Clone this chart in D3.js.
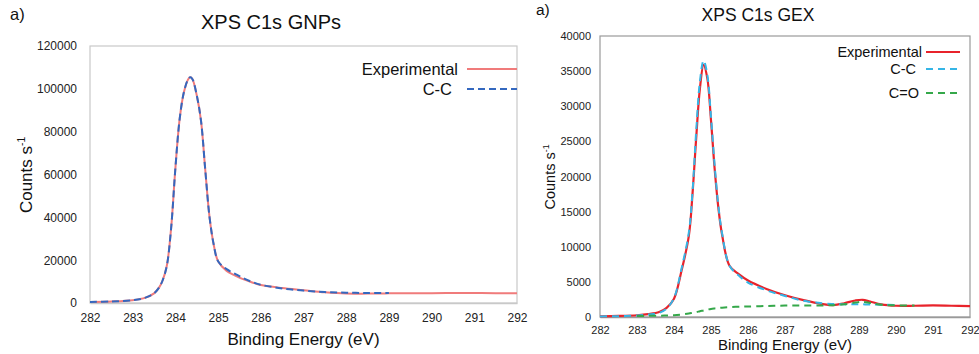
<!DOCTYPE html>
<html>
<head>
<meta charset="utf-8">
<script src="https://cdn.jsdelivr.net/npm/d3@7"></script>
<style>
  body { margin: 0; background: #fff; }
  svg { font-family: "Liberation Sans", Arial, sans-serif; }
</style>
</head>
<body>
<svg id="chart" width="979" height="354"></svg>
<script>
// ---- data: GNPs panel ----
const gnpEnergy = [282, 282.5, 283, 283.3, 283.5, 283.62, 283.7, 283.8, 283.9, 284.0, 284.1, 284.2, 284.3, 284.35, 284.4, 284.5, 284.6, 284.7, 284.8, 284.9, 285.0, 285.2, 285.4, 285.6, 285.8, 286, 286.5, 287, 287.5, 288, 288.5, 289, 289.5, 290, 290.5, 291, 291.5, 292];
const gnpExperimental = [500, 700, 1300, 2500, 4500, 7300, 10500, 17500, 35000, 63000, 86000, 98500, 104500, 105400, 104500, 97000, 85000, 62000, 40000, 27000, 19500, 15000, 12800, 11000, 9600, 8400, 7000, 6000, 5000, 4400, 4400, 4500, 4500, 4600, 4700, 4700, 4600, 4500];
const gnpCC = [500, 700, 1300, 2500, 4500, 7300, 10500, 17500, 35000, 63000, 86000, 98500, 104500, 105400, 104500, 97000, 85000, 62000, 40000, 27000, 19500, 15800, 13600, 11500, 9800, 8500, 6800, 5800, 5100, 4800, 4700, 4700, null, null, null, null, null, null];
const gnpYTicks = [0, 20000, 40000, 60000, 80000, 100000, 120000];

// ---- data: GEX panel ----
const gexEnergy = [282, 282.5, 283, 283.3, 283.6, 283.8, 284, 284.2, 284.4, 284.5, 284.6, 284.7, 284.8, 284.9, 285, 285.1, 285.2, 285.3, 285.5, 285.75, 286, 286.5, 287, 287.5, 288, 288.3, 288.6, 288.9, 289.1, 289.3, 289.6, 290, 290.5, 291, 291.5, 292];
const gexExperimental = [100, 150, 250, 400, 700, 1300, 2600, 6500, 11500, 17500, 25500, 32500, 35900, 34000, 28000, 21000, 15500, 11700, 7300, 6100, 5200, 4000, 3100, 2400, 1850, 1700, 1950, 2350, 2450, 2200, 1800, 1600, 1600, 1650, 1600, 1550];
const gexCC = [80, 120, 200, 350, 600, 1200, 2700, 6800, 12000, 17800, 26500, 33500, 36500, 34500, 28500, 21500, 15800, 11900, 7300, 5900, 4900, 3800, 3000, 2300, 1950, 1850, 1800, 1800, 1800, 1780, 1750, 1700, null, null, null, null];
const gexCO = [null, null, 150, 160, 190, 210, 250, 350, 500, 600, 700, 820, 930, 1050, 1150, 1220, 1280, 1330, 1400, 1460, 1500, 1570, 1620, 1640, 1650, 1680, 1800, 2050, 2150, 2000, 1750, 1650, 1620, null, null, null];
const gexYTicks = [0, 5000, 10000, 15000, 20000, 25000, 30000, 35000, 40000];

const xTicks = [282, 283, 284, 285, 286, 287, 288, 289, 290, 291, 292];

const svg = d3.select('#chart');

function drawPanel(p) {
    const x = d3.scaleLinear().domain([282, 292]).range([p.left, p.right]);
    const y = d3.scaleLinear().domain([0, p.yMax]).range([p.bottom, p.top]);
    const g = svg.append('g');

    // plot frame
    g.append('rect')
        .attr('x', p.left).attr('y', p.top)
        .attr('width', p.right - p.left).attr('height', p.bottom - p.top)
        .attr('fill', 'none').attr('stroke', p.frame).attr('stroke-width', 1.2);

    const yAxis = g.append('g')
        .attr('transform', `translate(${p.left},0)`)
        .call(d3.axisLeft(y).tickValues(p.yTicks).tickSize(0).tickPadding(p.yPad).tickFormat(d3.format('d')));
    yAxis.select('.domain').remove();
    yAxis.selectAll('text').attr('font-size', p.tickSize).attr('fill', '#222').attr('font-family', null);

    const xAxis = g.append('g')
        .attr('transform', `translate(0,${p.bottom})`)
        .call(d3.axisBottom(x).tickValues(xTicks).tickSize(0).tickPadding(p.xPad).tickFormat(d3.format('d')));
    xAxis.select('.domain').attr('stroke', p.frame).attr('stroke-width', 1.6);
    xAxis.selectAll('text').attr('font-size', p.tickSize).attr('fill', '#222').attr('font-family', null);

    // curves
    p.series.forEach(s => {
        const pts = p.energy.map((e, i) => [e, s.values[i]]);
        const line = d3.line()
            .defined(d => d[1] != null)
            .x(d => x(d[0]))
            .y(d => y(d[1]))
            .curve(d3.curveCatmullRom.alpha(0.5));
        g.append('path')
            .datum(pts)
            .attr('d', line)
            .attr('fill', 'none')
            .attr('stroke', s.color)
            .attr('stroke-width', s.width)
            .attr('stroke-linejoin', 'round')
            .attr('stroke-dasharray', s.dash);
    });

    // legend
    p.series.forEach((s, i) => {
        const ly = p.legY[i];
        g.append('text')
            .attr('x', p.legTextX[i]).attr('y', ly + p.legSize * 0.36)
            .attr('text-anchor', 'end').attr('font-size', p.legSize).attr('fill', '#111')
            .text(s.name);
        g.append('line')
            .attr('x1', p.legLine[0]).attr('x2', p.legLine[1])
            .attr('y1', ly).attr('y2', ly)
            .attr('stroke', s.color).attr('stroke-width', s.width)
            .attr('stroke-dasharray', s.dash);
    });

    // titles
    g.append('text').attr('x', p.titleX).attr('y', p.titleY)
        .attr('text-anchor', 'middle').attr('font-size', p.titleSize).attr('fill', '#111')
        .text(p.title);
    g.append('text').attr('x', p.tagX).attr('y', p.tagY)
        .attr('font-size', p.tagSize).attr('fill', '#111').text('a)');
    g.append('text').attr('x', (p.left + p.right) / 2 + p.xTitleShift).attr('y', p.xTitleY)
        .attr('text-anchor', 'middle').attr('font-size', p.axisTitleSize).attr('fill', '#111')
        .text('Binding Energy (eV)');
    const yl = g.append('text')
        .attr('transform', `translate(${p.yTitleX},${p.yTitleY}) rotate(-90)`)
        .attr('text-anchor', 'middle').attr('font-size', p.yTitleSize).attr('fill', '#111');
    yl.append('tspan').text(p.yTitleText);
    yl.append('tspan').attr('dy', -p.yTitleSize * 0.4).attr('font-size', p.yTitleSize * 0.6).text('-1');
}

drawPanel({
    left: 90, right: 517, top: 46, bottom: 303, yMax: 120000, yTicks: gnpYTicks,
    frame: '#c9c9c9', tickSize: 12, yPad: 13, xPad: 10,
    energy: gnpEnergy,
    series: [
        { name: 'Experimental', values: gnpExperimental, color: '#f07b7b', width: 2, dash: null },
        { name: 'C-C', values: gnpCC, color: '#3468bf', width: 2, dash: '7,4' }
    ],
    legY: [69, 89], legTextX: [458, 452], legLine: [467, 517], legSize: 16.5,
    title: 'XPS C1s GNPs', titleX: 271, titleY: 29, titleSize: 20,
    tagX: 10, tagY: 20, tagSize: 16.5,
    xTitleShift: 0, xTitleY: 345, axisTitleSize: 17,
    yTitleX: 32, yTitleY: 175, yTitleSize: 17, yTitleText: 'Counts  s'
});

drawPanel({
    left: 600, right: 970, top: 36, bottom: 317, yMax: 40000, yTicks: gexYTicks,
    frame: '#9a9a9a', tickSize: 11, yPad: 9, xPad: 9,
    energy: gexEnergy,
    series: [
        { name: 'Experimental', values: gexExperimental, color: '#e8232b', width: 2.2, dash: null },
        { name: 'C-C', values: gexCC, color: '#35b5e6', width: 2, dash: '7,5' },
        { name: 'C=O', values: gexCO, color: '#35a84a', width: 2, dash: '7,5' }
    ],
    legY: [52, 69, 93], legTextX: [922, 916, 919], legLine: [926, 960], legSize: 14.5,
    title: 'XPS C1s GEX', titleX: 758, titleY: 21, titleSize: 17.5,
    tagX: 536, tagY: 15, tagSize: 15.5,
    xTitleShift: 0, xTitleY: 349.5, axisTitleSize: 15,
    yTitleX: 555, yTitleY: 177, yTitleSize: 14.5, yTitleText: 'Counts s'
});
</script>
</body>
</html>
